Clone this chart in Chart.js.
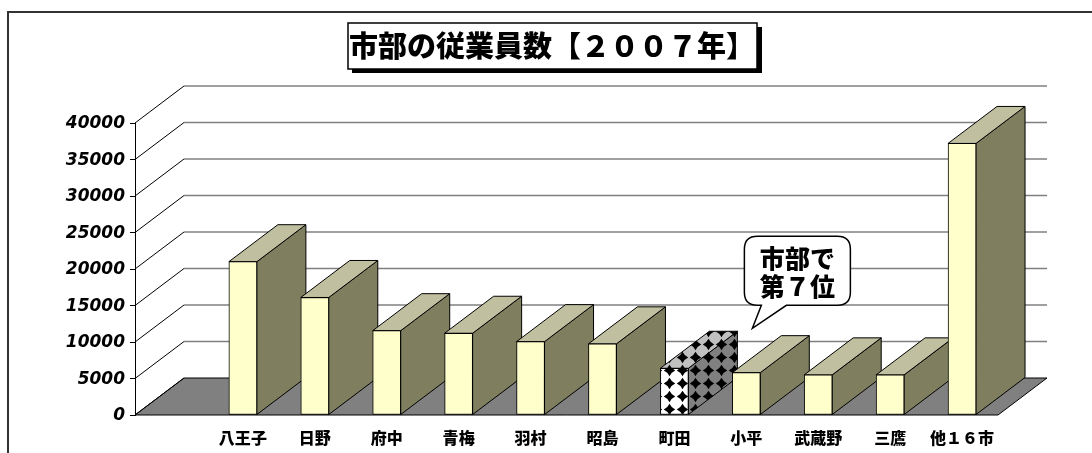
<!DOCTYPE html>
<html>
<head>
<meta charset="utf-8">
<script src="https://cdn.jsdelivr.net/npm/chart.js@4/dist/chart.umd.min.js"></script>
<style>
  html, body { margin: 0; padding: 0; background: #fff; }
  #wrap { width: 1092px; height: 453px; }
</style>
</head>
<body>
<div id="wrap"><canvas id="chart"></canvas></div>
<script>
// data
const categories = ['八王子', '日野', '府中', '青梅', '羽村', '昭島', '町田', '小平', '武蔵野', '三鷹', '他１６市'];
const employees = [21000, 16100, 11550, 11200, 10050, 9750, 6400, 5800, 5500, 5500, 37200];
const yTicks = [0, 5000, 10000, 15000, 20000, 25000, 30000, 35000, 40000];
const highlight = '町田';
const titleText = '市部の従業員数【２００７年】';
const calloutLines = ['市部で', '第７位'];

// 3d look
const DX = 49, DY = -37;
const FRONT = '#FFFFCC', SIDE = '#7F7F5F', TOP = '#C0C0A0', FLOOR = '#808080';

// light background with black diamonds
function makePattern(bg) {
  const c = document.createElement('canvas');
  c.width = 13; c.height = 13;
  const g = c.getContext('2d');
  g.fillStyle = bg;
  g.fillRect(0, 0, 13, 13);
  g.fillStyle = '#000';
  g.beginPath();
  g.moveTo(6.5, 0.8);
  g.quadraticCurveTo(8.3, 4.7, 12.2, 6.5);
  g.quadraticCurveTo(8.3, 8.3, 6.5, 12.2);
  g.quadraticCurveTo(4.7, 8.3, 0.8, 6.5);
  g.quadraticCurveTo(4.7, 4.7, 6.5, 0.8);
  g.fill();
  return g.createPattern(c, 'repeat');
}
const patFront = makePattern('#FFFFFF');
const patSide = makePattern('#808080');
const patTop = makePattern('#C0C0C0');

const labels = [''].concat(categories);
const values = [null].concat(employees);
const hiIndex = labels.indexOf(highlight);

function poly(ctx, pts, fill) {
  ctx.beginPath();
  ctx.moveTo(pts[0][0], pts[0][1]);
  for (let i = 1; i < pts.length; i++) ctx.lineTo(pts[i][0], pts[i][1]);
  ctx.closePath();
  ctx.fillStyle = fill;
  ctx.fill();
  ctx.stroke();
}

const depth3d = {
  id: 'depth3d',
  beforeDatasetsDraw(chart) {
    const { ctx, chartArea: a, scales: { y } } = chart;
    ctx.save();
    // back wall grid
    ctx.strokeStyle = '#808080';
    ctx.lineWidth = 1.5;
    yTicks.forEach(v => {
      if (v === 0) return;
      const py = y.getPixelForValue(v) + DY;
      ctx.beginPath();
      ctx.moveTo(a.left + DX, py);
      ctx.lineTo(a.right + DX, py);
      ctx.stroke();
    });
    // floor
    ctx.strokeStyle = '#000';
    ctx.lineWidth = 1;
    poly(ctx, [[a.left, a.bottom], [a.right, a.bottom], [a.right + DX, a.bottom + DY], [a.left + DX, a.bottom + DY]], FLOOR);
    // side wall diagonals
    yTicks.forEach(v => {
      const py = y.getPixelForValue(v);
      ctx.beginPath();
      ctx.moveTo(a.left, py);
      ctx.lineTo(a.left + DX, py + DY);
      ctx.stroke();
    });
    // bar sides and tops
    const meta = chart.getDatasetMeta(0);
    meta.data.forEach((bar, i) => {
      if (values[i] == null) return;
      const p = bar.getProps(['x', 'y', 'base', 'width'], true);
      const l = p.x - p.width / 2, r = p.x + p.width / 2;
      const hi = i === hiIndex;
      poly(ctx, [[r, p.y], [r + DX, p.y + DY], [r + DX, p.base + DY], [r, p.base]], hi ? patSide : SIDE);
      poly(ctx, [[l, p.y], [r, p.y], [r + DX, p.y + DY], [l + DX, p.y + DY]], hi ? patTop : TOP);
    });
    ctx.restore();
  },
  afterDraw(chart) {
    const { ctx } = chart;
    ctx.save();
    // outer frame
    ctx.strokeStyle = '#333';
    ctx.lineWidth = 2;
    ctx.strokeRect(8, 12, 1100, 460);

    // title box
    ctx.fillStyle = '#000';
    ctx.fillRect(352, 27, 410, 46);
    ctx.fillStyle = '#fff';
    ctx.fillRect(348, 23, 409, 46);
    ctx.lineWidth = 1.5;
    ctx.strokeStyle = '#000';
    ctx.strokeRect(348, 23, 409, 46);
    ctx.fillStyle = '#000';
    ctx.font = '900 29px "Noto Sans CJK JP"';
    ctx.textAlign = 'center';
    ctx.textBaseline = 'middle';
    ctx.fillText(titleText, 552, 46);

    // callout near highlighted bar
    const bar = chart.getDatasetMeta(0).data[hiIndex];
    const ox = bar.x, oy = bar.y;
    const L = ox + 70, T = oy - 132, R = L + 106, B = T + 69, rad = 13;
    ctx.beginPath();
    ctx.moveTo(L + rad, T);
    ctx.lineTo(R - rad, T);
    ctx.quadraticCurveTo(R, T, R, T + rad);
    ctx.lineTo(R, B - rad);
    ctx.quadraticCurveTo(R, B, R - rad, B);
    ctx.lineTo(L + 42, B);
    ctx.lineTo(ox + 78, oy - 40);
    ctx.lineTo(L + 17, B);
    ctx.lineTo(L + rad, B);
    ctx.quadraticCurveTo(L, B, L, B - rad);
    ctx.lineTo(L, T + rad);
    ctx.quadraticCurveTo(L, T, L + rad, T);
    ctx.closePath();
    ctx.fillStyle = '#fff';
    ctx.fill();
    ctx.lineWidth = 1.5;
    ctx.stroke();
    ctx.fillStyle = '#000';
    ctx.font = '900 25px "Noto Sans CJK JP"';
    ctx.fillText(calloutLines[0], (L + R) / 2, T + 22);
    ctx.fillText(calloutLines[1], (L + R) / 2, T + 50);
    ctx.restore();
  }
};

new Chart(document.getElementById('chart'), {
  type: 'bar',
  data: {
    labels: labels,
    datasets: [{
      data: values,
      backgroundColor: labels.map((c, i) => i === hiIndex ? patFront : FRONT),
      borderColor: '#000',
      borderWidth: 1,
      borderSkipped: false,
      barThickness: 28
    }]
  },
  options: {
    responsive: true,
    maintainAspectRatio: false,
    animation: false,
    devicePixelRatio: 1,
    layout: { padding: { top: 123, right: 94, bottom: 0, left: 0 } },
    plugins: { legend: { display: false }, tooltip: { enabled: false } },
    scales: {
      x: {
        afterFit(scale) { scale.height = 38; },
        grid: { display: false },
        border: { display: false },
        ticks: {
          color: '#000',
          padding: 5,
          maxRotation: 0,
          autoSkip: false,
          font: { family: '"Noto Sans CJK JP"', size: 16, weight: '900' }
        }
      },
      y: {
        min: 0,
        max: 40000,
        afterFit(scale) { scale.width = 135; },
        afterBuildTicks(scale) { scale.ticks = yTicks.map(v => ({ value: v })); },
        grid: { drawOnChartArea: false, drawTicks: true, tickLength: 5, color: '#000' },
        border: { display: true, color: '#000', width: 1 },
        ticks: {
          color: '#000',
          padding: 5,
          labelOffset: 1,
          callback: v => String(v),
          font: { family: '"DejaVu Sans"', size: 17, weight: 'bold', style: 'italic' }
        }
      }
    }
  },
  plugins: [depth3d]
});
</script>
</body>
</html>
